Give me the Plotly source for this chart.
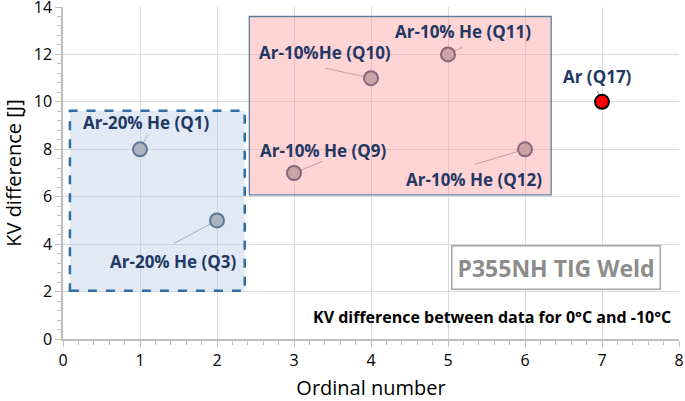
import plotly.graph_objects as go

# ---- data ----
ordinal = [1, 2, 3, 4, 5, 6, 7]
kv_diff = [8, 5, 7, 11, 12, 8, 10]
labels = ["Ar-20% He (Q1)", "Ar-20% He (Q3)", "Ar-10% He (Q9)", "Ar-10%He (Q10)",
          "Ar-10% He (Q11)", "Ar-10% He (Q12)", "Ar (Q17)"]
x_ticks = [0, 1, 2, 3, 4, 5, 6, 7, 8]
y_ticks = [0, 2, 4, 6, 8, 10, 12, 14]

# ---- layout helpers (pixel offsets, not data) ----
text_offsets = [(6, 27), (-44, -41), (29, 23), (-46, 26), (15, 23), (-51, -30), (-5, 25)]
leader_ends = [(8, 15), (-43, -23), (29, 12), (-46, 10), (14, 7), (-50, -15), (-5, 11)]
fill_colors = ["#A6A6A6"] * 6 + ["#FF0000"]
edge_colors = ["#1F3864"] * 6 + ["#000000"]

LABEL_FONT = dict(family="Open Sans", size=17, color="#1F3864")

fig = go.Figure()
fig.add_trace(go.Scatter(
    x=ordinal, y=kv_diff, mode="markers",
    marker=dict(size=14, color=fill_colors, line=dict(color=edge_colors, width=2)),
    showlegend=False, hoverinfo="x+y",
))

shapes = []
annotations = []
for xv, yv, lab, (tx, ty), (lx, ly) in zip(ordinal, kv_diff, labels, text_offsets, leader_ends):
    shapes.append(dict(type="line", xref="x", yref="y", xsizemode="pixel", ysizemode="pixel",
                       xanchor=xv, yanchor=yv, x0=0, y0=0, x1=lx, y1=ly,
                       line=dict(color="#9A9A9A", width=1), layer="below"))
    annotations.append(dict(x=xv, y=yv, xref="x", yref="y", text="<b>%s</b>" % lab,
                            showarrow=False, xshift=tx, yshift=ty, font=LABEL_FONT))

# group boxes
shapes.append(dict(type="rect", xref="x", yref="y", x0=0.09, x1=2.36, y0=2.03, y1=9.62,
                   fillcolor="rgba(180,203,228,0.42)",
                   line=dict(color="#2E6DA4", width=2.5, dash="dash"), layer="above"))
shapes.append(dict(type="rect", xref="x", yref="y", x0=2.42, x1=6.34, y0=6.08, y1=13.6,
                   fillcolor="rgba(255,160,160,0.45)",
                   line=dict(color="#5B7FA6", width=1.3), layer="above"))

annotations.append(dict(x=0.80, y=0.215, xref="paper", yref="paper",
                        xanchor="center", yanchor="middle",
                        text="<b>P355NH TIG Weld</b>", showarrow=False,
                        font=dict(family="Open Sans", size=23, color="#8C8C8C"),
                        bgcolor="white", bordercolor="#A6A6A6", borderwidth=1.5, borderpad=5))
annotations.append(dict(x=0.99, y=0.066, xref="paper", yref="paper",
                        xanchor="right", yanchor="middle",
                        text="<b>KV difference between data for 0°C and -10°C</b>",
                        showarrow=False,
                        font=dict(family="Open Sans", size=16, color="#000000")))

axis_common = dict(showgrid=True, gridcolor="#D9D9D9", gridwidth=1,
                   showline=True, linecolor="#BFBFBF", linewidth=1.5,
                   ticks="outside", tickcolor="#BFBFBF", ticklen=6,
                   tickfont=dict(family="Open Sans", size=16, color="#000000"),
                   zeroline=False, automargin=False, ticklabeloverflow="allow")

fig.update_layout(
    width=685, height=401,
    margin=dict(l=63, r=6, t=7, b=62),
    paper_bgcolor="white", plot_bgcolor="white",
    xaxis=dict(range=[0, 8], tickvals=x_ticks, title=dict(text="Ordinal number",
               font=dict(family="Open Sans", size=20, color="#000000")),
               minor=dict(dtick=0.2, ticks="outside", ticklen=4, tickcolor="#BFBFBF", showgrid=False),
               **axis_common),
    yaxis=dict(range=[0, 14], tickvals=y_ticks, title=dict(text="KV difference [J]",
               font=dict(family="Open Sans", size=20, color="#000000")),
               minor=dict(dtick=0.4, ticks="outside", ticklen=4, tickcolor="#BFBFBF", showgrid=False),
               **axis_common),
    shapes=shapes,
    annotations=annotations,
)

fig.write_html("out.html", config={"displayModeBar": False},
               post_script="document.body.style.margin='0';document.body.style.overflow='hidden';")
